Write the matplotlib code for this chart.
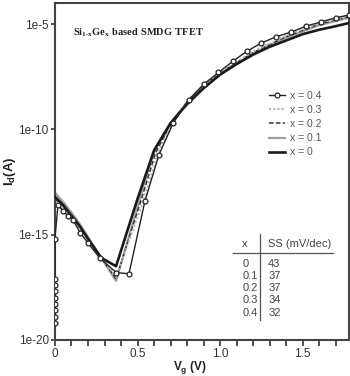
import numpy as np
import matplotlib.pyplot as plt
from matplotlib.ticker import FixedLocator, MultipleLocator

plt.rcParams['mathtext.fontset'] = 'custom'
plt.rcParams['mathtext.bf'] = 'Liberation Serif:bold'
plt.rcParams['mathtext.sf'] = 'Liberation Sans:bold'
plt.rcParams['mathtext.rm'] = 'Liberation Sans'
plt.rcParams['font.family'] = 'Liberation Sans'

# Id-Vg curves, values are log10(Id / A)
vg_x0 = [0, 0.05, 0.1, 0.15, 0.2, 0.28, 0.37, 0.5, 0.6, 0.7, 0.8, 0.9, 1.0,
         1.1, 1.2, 1.3, 1.4, 1.5, 1.6, 1.7, 1.78]
log_x0 = [-13.2, -13.6, -14.1, -14.6, -15.2, -16.1, -16.5, -13.3, -11.0, -9.7, -8.8, -8.05, -7.4,
          -6.9, -6.45, -6.08, -5.78, -5.48, -5.27, -5.1, -4.95]

vg_x1 = [0, 0.05, 0.1, 0.15, 0.2, 0.28, 0.37, 0.51, 0.6, 0.7, 0.8, 0.9, 1.0,
         1.2, 1.4, 1.6, 1.78]
log_x1 = [-13.0, -13.45, -13.95, -14.5, -15.1, -16.1, -17.2, -13.4, -11.05, -9.72, -8.7, -7.95, -7.35,
          -6.4, -5.65, -5.05, -4.7]

vg_x2 = [0, 0.05, 0.1, 0.15, 0.2, 0.28, 0.37, 0.52, 0.61, 0.7, 0.8, 0.9, 1.0,
         1.2, 1.4, 1.6, 1.78]
log_x2 = [-13.3, -13.65, -14.1, -14.6, -15.2, -16.1, -17.1, -13.4, -11.1, -9.78, -8.7, -7.92, -7.32,
          -6.35, -5.6, -5.0, -4.65]

vg_x3 = [0, 0.05, 0.1, 0.15, 0.2, 0.28, 0.37, 0.535, 0.62, 0.7, 0.8, 0.9, 1.0,
         1.2, 1.4, 1.6, 1.78]
log_x3 = [-13.45, -13.75, -14.2, -14.7, -15.25, -16.1, -17.0, -13.4, -11.2, -9.85, -8.65, -7.9, -7.3,
          -6.3, -5.55, -4.95, -4.6]

vg_x4 = [0, 0, 0, 0, 0, 0, 0, 0, 0, 0.018, 0.048, 0.079, 0.109, 0.152, 0.2, 0.27, 0.37, 0.448,
         0.545, 0.63, 0.716, 0.81, 0.9, 0.99, 1.08, 1.16, 1.25, 1.34, 1.43, 1.52, 1.61, 1.70, 1.78]
log_x4 = [-19.2, -18.9, -18.6, -18.3, -18.0, -17.7, -17.4, -17.1, -15.2, -13.6, -13.86, -14.1, -14.3, -14.9, -15.4,
          -16.1, -16.8, -16.86,
          -13.4, -11.2, -9.7, -8.6, -7.86, -7.3, -6.75, -6.3, -5.9, -5.6, -5.38, -5.1, -4.9, -4.7, -4.57]

ss_x = ['0', '0.1', '0.2', '0.3', '0.4']
ss_val = ['43', '37', '37', '34', '32']

fig = plt.figure(figsize=(3.5, 3.76), dpi=100)
ax = fig.add_axes([0.157, 0.096, 0.84, 0.896])

ax.plot(vg_x0, 10.0 ** np.array(log_x0), color='#1a1a1a', lw=1.9, label='x = 0', zorder=3)
ax.plot(vg_x1, 10.0 ** np.array(log_x1), color='#a0a0a0', lw=1.6, label='x = 0.1', zorder=2)
ax.plot(vg_x2, 10.0 ** np.array(log_x2), color='#333333', lw=1.1, ls=(0, (3, 1.5)), label='x = 0.2', zorder=2)
ax.plot(vg_x3, 10.0 ** np.array(log_x3), color='#b5b5b5', lw=1.5, ls=(0, (1, 1)), label='x = 0.3', zorder=2)
ax.plot(vg_x4, 10.0 ** np.array(log_x4), color='#222222', lw=1.0, marker='o', ms=3.5,
        mfc='white', mec='#222222', mew=0.9, label='x = 0.4', zorder=4)

ax.set_yscale('log')
ax.set_xlim(0, 1.78)
ax.set_ylim(1e-20, 1e-4)

ax.xaxis.set_major_locator(FixedLocator([0, 0.5, 1.0, 1.5]))
ax.set_xticklabels(['0', '0.5', '1.0', '1.5'])
ax.xaxis.set_minor_locator(MultipleLocator(0.1))
ax.yaxis.set_major_locator(FixedLocator([1e-20, 1e-15, 1e-10, 1e-5]))
ax.yaxis.set_minor_locator(FixedLocator([]))
ax.set_yticklabels(['1e-20', '1e-15', '1e-10', '1e-5'])
ax.tick_params(axis='both', which='both', direction='out', length=4, width=1.2,
               color='#333333', labelsize=8.5, labelcolor='#333333', pad=1.5)
ax.tick_params(axis='y', which='major', length=3)

for s in ax.spines.values():
    s.set_linewidth(1.5)
    s.set_color('#444444')

ax.set_xlabel(r'$\mathsf{V_g}$ (V)', fontsize=8.5, fontweight='bold', color='#222222')
ax.xaxis.set_label_coords(0.46, -0.057)
ax.set_ylabel(r'$\mathsf{I_d}$(A)', fontsize=9.5, fontweight='bold', color='#222222')
ax.yaxis.set_label_coords(-0.125, 0.5)

ax.text(0.06, 0.911, r'$\mathbf{Si_{1‐x}Ge_x\ based\ SMDG\ TFET}$', transform=ax.transAxes,
        fontsize=7.5, color='#222222', va='center')

handles, labels = ax.get_legend_handles_labels()
leg = ax.legend(handles[::-1], labels[::-1], loc='upper left', bbox_to_anchor=(0.71, 0.755),
                frameon=False, fontsize=7.5, handlelength=1.5, handletextpad=0.5,
                labelspacing=0.4, borderpad=0)
for t in leg.get_texts():
    t.set_color('#555555')

# SS table
ax.text(0.637, 0.285, 'x', transform=ax.transAxes, fontsize=8, color='#444444', va='center')
ax.text(0.725, 0.285, 'SS (mV/dec)', transform=ax.transAxes, fontsize=8, color='#444444', va='center')
ax.plot([0.605, 0.945], [0.258, 0.258], transform=ax.transAxes, color='#555555', lw=0.9)
ax.plot([0.698, 0.698], [0.06, 0.315], transform=ax.transAxes, color='#555555', lw=0.9)
for i in range(len(ss_x)):
    yy = 0.225 - i * 0.036
    ax.text(0.64, yy, ss_x[i], transform=ax.transAxes, fontsize=8, color='#444444', va='center')
    ax.text(0.725, yy, ss_val[i], transform=ax.transAxes, fontsize=8, color='#444444', va='center')

fig.savefig('out.png', dpi=100)
